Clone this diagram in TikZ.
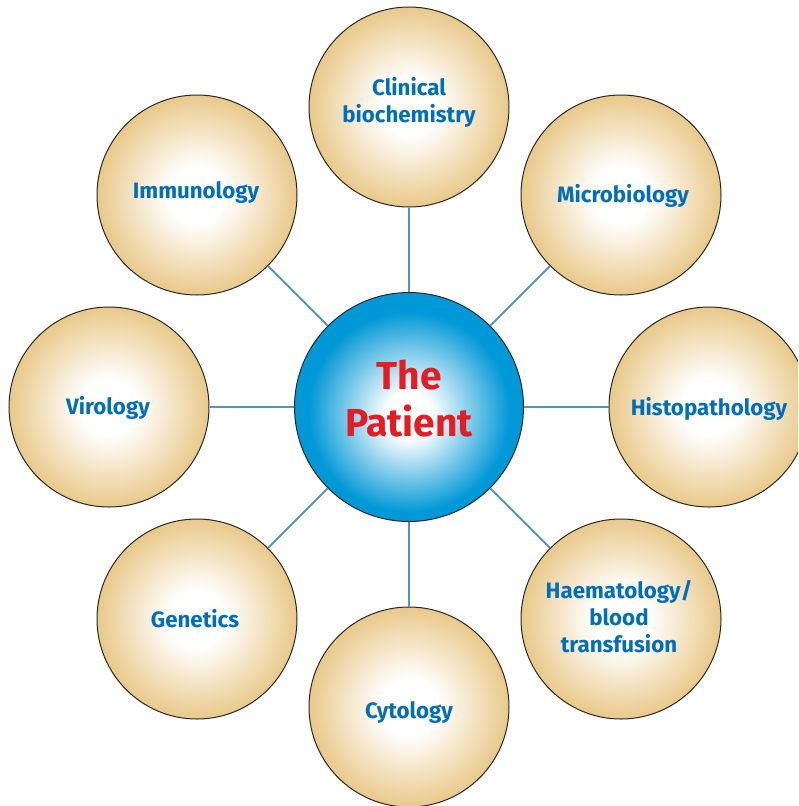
\documentclass[tikz,border=0pt]{standalone}
\usepackage{fontspec}
\setmainfont{Fira Sans}
\definecolor{tanc}{RGB}{233,201,138}
\definecolor{ballblue}{RGB}{0,152,214}
\definecolor{labelblue}{RGB}{0,110,184}
\definecolor{patred}{RGB}{228,28,36}
\definecolor{linkc}{RGB}{82,150,190}
\definecolor{rimc}{RGB}{40,40,40}
\pgfdeclareradialshading{tanball}{\pgfpoint{0bp}{0bp}}{color(0bp)=(white); color(7bp)=(white); color(25bp)=(tanc); color(50bp)=(tanc)}
\pgfdeclareradialshading{blueball}{\pgfpoint{0bp}{-2bp}}{color(0bp)=(white); color(5bp)=(white); color(22bp)=(ballblue); color(25bp)=(ballblue); color(50bp)=(ballblue)}
\tikzset{
  outer/.style={circle, draw=rimc, line width=1pt, minimum size=200pt, inner sep=0pt,
    shading=tanball},
  lab/.style={align=center, text=labelblue, inner sep=0pt,
    font=\fontsize{22.3}{27}\selectfont\bfseries},
  centre/.style={circle, draw=rimc, line width=1pt, minimum size=229pt, inner sep=0pt,
    shading=blueball},
  patlabel/.style={align=center, text=patred, font=\fontsize{39}{47}\selectfont\bfseries},
  conn/.style={draw=linkc, line width=2pt}
}
\begin{document}
\begin{tikzpicture}[x=1pt,y=-1pt]
\useasboundingbox (0,0) rectangle (798,806);
\clip (0,0) rectangle (798,806);
\node[centre] (c) at (409,407) {};
\node[patlabel] (pt) at (409,399) {The\\Patient};
\node[outer] (clin) at (409,107) {};
\node[outer] (micro) at (621,195) {};
\node[outer] (histo) at (709,407) {};
\node[outer] (haem) at (621,619) {};
\node[outer] (cyto) at (409,707) {};
\node[outer] (gen) at (197,619) {};
\node[outer] (viro) at (109,407) {};
\node[outer] (immu) at (197,195) {};
\node[lab] (clinT) at (409,102) {Clinical\\biochemistry};
\node[lab] (microT) at (623,196) {Microbiology};
\node[lab] (histoT) at (709,409) {Histopathology};
\node[lab] (haemT) at (619,617) {Haematology/\\blood\\transfusion};
\node[lab] (cytoT) at (409,713) {Cytology};
\node[lab] (genT) at (195,619) {Genetics};
\node[lab] (viroT) at (108,408) {Virology};
\node[lab] (immuT) at (196,193) {Immunology};
\foreach \n in {clin,micro,histo,haem,cyto,gen,viro,immu}
  \draw[conn] (c) -- (\n);
\end{tikzpicture}
\end{document}
